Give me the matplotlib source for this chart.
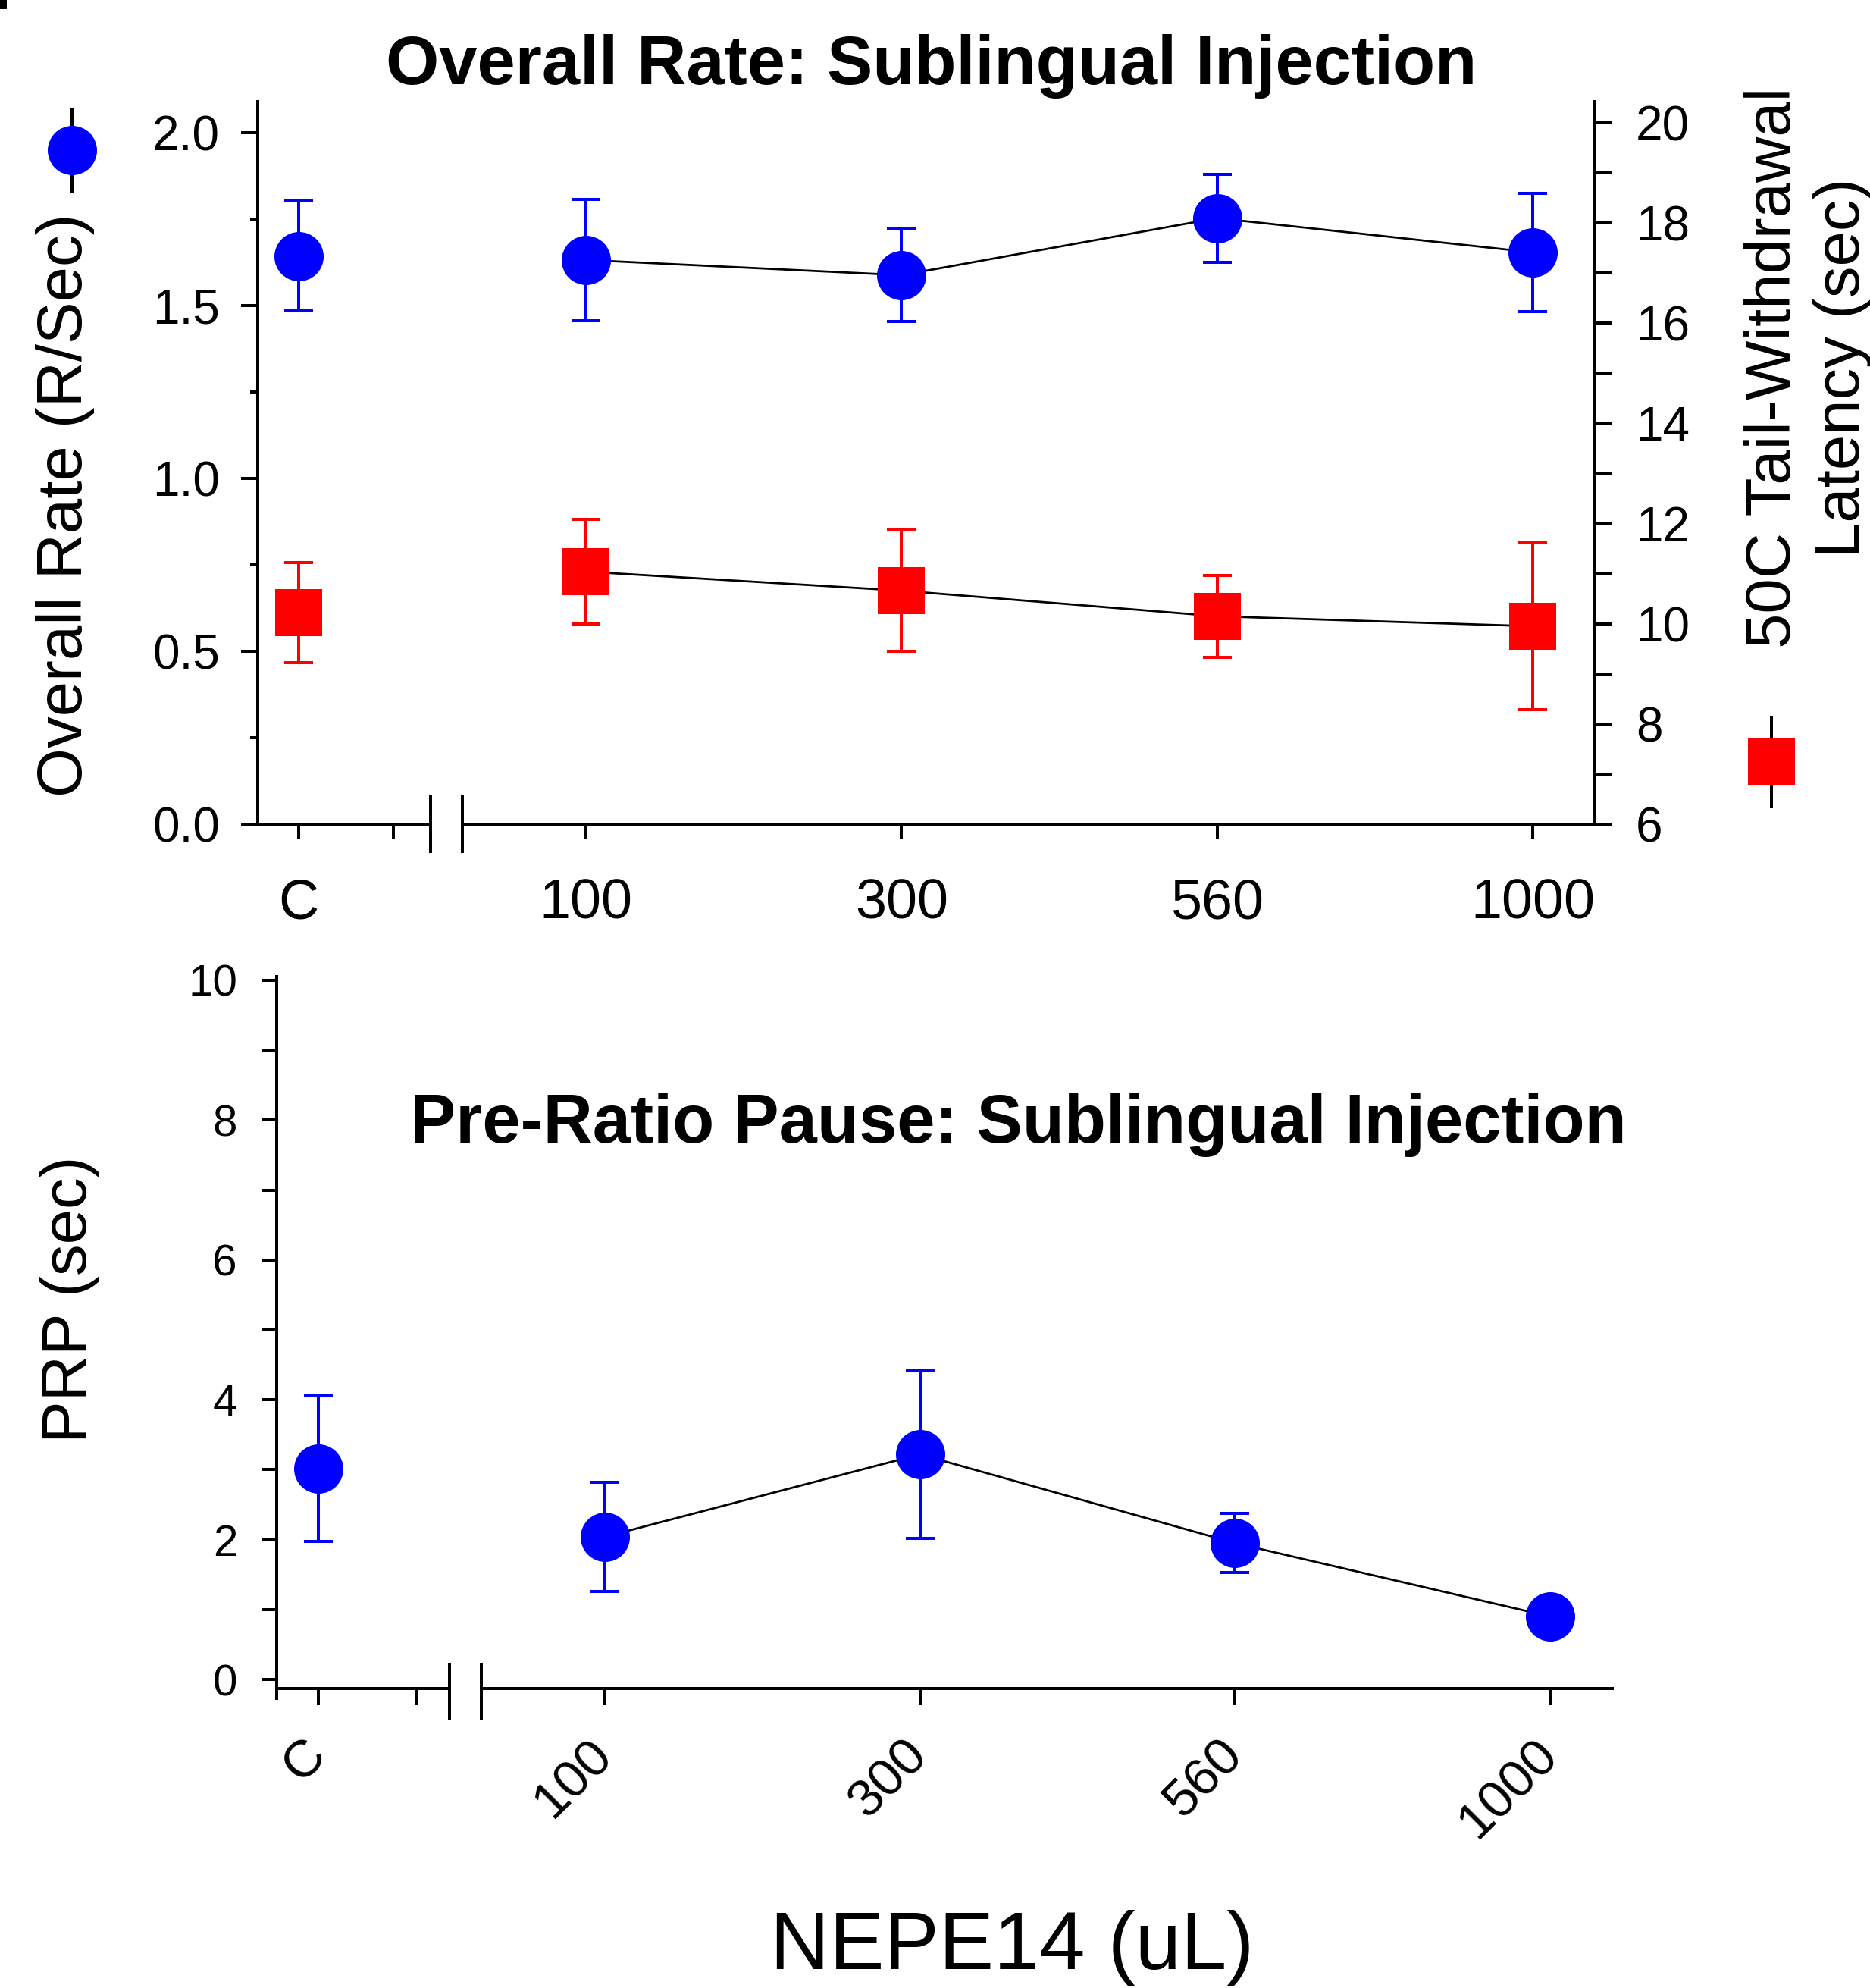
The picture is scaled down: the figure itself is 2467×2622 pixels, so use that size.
import matplotlib
matplotlib.use('Agg')
import matplotlib.pyplot as plt
from matplotlib.ticker import MultipleLocator, FormatStrFormatter, FixedLocator

plt.rcParams['font.family'] = ['Liberation Sans', 'DejaVu Sans']

# ---------------- data ----------------
categories = ['C', '100', '300', '560', '1000']
cat_pos = [0.09, 1, 2, 3, 4]
rate_mean = [1.643, 1.632, 1.588, 1.753, 1.654]
rate_sem = [0.159, 0.176, 0.135, 0.127, 0.171]
latency_mean = [10.22, 11.04, 10.66, 10.15, 9.95]
latency_sem = [1.00, 1.05, 1.21, 0.82, 1.67]
prp_mean = [3.02, 2.04, 3.22, 1.95, 0.90]
prp_sem = [1.05, 0.78, 1.20, 0.42, 0.10]

W, H = 2467, 2622
fig = plt.figure(figsize=(W / 100, H / 100), dpi=100)
PT = 0.72  # points per pixel


def px2fig(l, t, r, b):
    return [l / W, 1 - b / H, (r - l) / W, (b - t) / H]


LW = 4 * PT
MS_C = 65 * PT
MS_S = 62 * PT
ELW = 4 * PT
CAP = 19 * PT
BLUE = '#0000ff'
RED = '#ff0000'
BRK1, BRK2 = 0.507, 0.608

# ---------------- top panel ----------------
ax = fig.add_axes(px2fig(340, 134, 2104, 1087))
ax.set_xlim(-0.040, 4.197)
ax.set_ylim(0, 2.09)
ax2 = ax.twinx()
ax2.set_ylim(6, 20.42)

for a in (ax, ax2):
    a.spines['top'].set_visible(False)
    a.spines['bottom'].set_visible(False)
    a.set_facecolor('none')
ax.spines['right'].set_visible(False)
ax2.spines['left'].set_visible(False)
ax.spines['left'].set_linewidth(LW)
ax2.spines['right'].set_linewidth(LW)

# x axis with break
ax.plot([-0.08, BRK1], [0, 0], color='k', lw=LW, clip_on=False,
        solid_capstyle='butt', transform=ax.get_xaxis_transform())
ax.plot([BRK2, 4.197], [0, 0], color='k', lw=LW, clip_on=False,
        solid_capstyle='butt', transform=ax.get_xaxis_transform())
for b in (BRK1, BRK2):
    ax.plot([b, b], [-0.040, 0.040], color='k', lw=LW, clip_on=False,
            solid_capstyle='butt', transform=ax.get_xaxis_transform())

ax.set_xticks(cat_pos)
ax.set_xticklabels(categories, fontsize=53)
ax.xaxis.set_minor_locator(FixedLocator([0.39]))
ax.tick_params(axis='x', which='both', direction='out', length=20 * PT,
               width=LW, pad=36)
ax.yaxis.set_major_locator(MultipleLocator(0.5))
ax.yaxis.set_minor_locator(MultipleLocator(0.25))
ax.yaxis.set_major_formatter(FormatStrFormatter('%.1f'))
ax.tick_params(axis='y', which='major', direction='out', length=22 * PT,
               width=LW, pad=20, labelsize=46)
ax.tick_params(axis='y', which='minor', direction='out', length=10 * PT,
               width=LW)
ax2.yaxis.set_major_locator(MultipleLocator(2))
ax2.yaxis.set_minor_locator(MultipleLocator(1))
ax2.tick_params(axis='y', which='both', direction='out', length=22 * PT,
                width=LW, pad=23, labelsize=46)

# rate (left axis)
ax.errorbar(cat_pos, rate_mean, yerr=rate_sem, fmt='none', ecolor=BLUE,
            elinewidth=ELW, capsize=CAP, capthick=ELW, zorder=3)
ax.plot(cat_pos[1:], rate_mean[1:], color='k', lw=2.0, zorder=2)
ax.plot(cat_pos, rate_mean, 'o', color=BLUE, ms=MS_C, mew=0, zorder=4)

# latency (right axis)
ax2.errorbar(cat_pos, latency_mean, yerr=latency_sem, fmt='none', ecolor=RED,
             elinewidth=ELW, capsize=CAP, capthick=ELW, zorder=3)
ax2.plot(cat_pos[1:], latency_mean[1:], color='k', lw=2.0, zorder=2)
ax2.plot(cat_pos, latency_mean, 's', color=RED, ms=MS_S, mew=0, zorder=4)

# ---------------- bottom panel ----------------
bx = fig.add_axes(px2fig(365, 1288, 2129, 2240))
bx.set_xlim(-0.0416, 4.202)
bx.set_ylim(-0.271, 10.054)
bx.set_facecolor('none')
for s in ('top', 'right'):
    bx.spines[s].set_visible(False)
bx.spines['left'].set_linewidth(LW)
XAX = -0.13
bx.spines['bottom'].set_position(('data', XAX))
bx.spines['bottom'].set_visible(False)
bx.plot([-0.0416, BRK1], [XAX, XAX], color='k', lw=LW, clip_on=False,
        solid_capstyle='butt')
bx.plot([BRK2, 4.202], [XAX, XAX], color='k', lw=LW, clip_on=False,
        solid_capstyle='butt')
for b in (BRK1, BRK2):
    bx.plot([b, b], [0.24, -0.59], color='k', lw=LW, clip_on=False,
            solid_capstyle='butt')

bx.set_xticks(cat_pos)
bx.set_xticklabels(categories, fontsize=50, rotation=45, ha='right',
                   va='center', rotation_mode='anchor')
bx.xaxis.set_minor_locator(FixedLocator([0.40]))
bx.tick_params(axis='x', which='both', direction='out', length=22 * PT,
               width=LW, pad=40)
bx.yaxis.set_major_locator(MultipleLocator(2))
bx.yaxis.set_minor_locator(MultipleLocator(1))
bx.tick_params(axis='y', which='both', direction='out', length=20 * PT,
               width=LW, pad=23, labelsize=42)

bx.errorbar(cat_pos, prp_mean, yerr=prp_sem, fmt='none', ecolor=BLUE,
            elinewidth=ELW, capsize=CAP, capthick=ELW, zorder=3)
bx.plot(cat_pos[1:], prp_mean[1:], color='k', lw=2.0, zorder=2)
bx.plot(cat_pos, prp_mean, 'o', color=BLUE, ms=MS_C, mew=0, zorder=4)

# ---------------- overlay texts & keys ----------------
ov = fig.add_axes([0, 0, 1, 1])
ov.set_xlim(0, W)
ov.set_ylim(H, 0)
ov.axis('off')
ov.set_facecolor('none')

ov.text(1229, 87, 'Overall Rate: Sublingual Injection', fontsize=65,
        fontweight='bold', ha='center', va='center')
ov.text(1343, 1484, 'Pre-Ratio Pause: Sublingual Injection', fontsize=65,
        fontweight='bold', ha='center', va='center')
ov.text(86, 666, 'Overall Rate (R/Sec)', fontsize=60, rotation=90,
        ha='center', va='center')
ov.text(2340, 485, '50C Tail-Withdrawal', fontsize=60, rotation=90,
        ha='center', va='center')
ov.text(2431, 485, 'Latency (sec)', fontsize=60, rotation=90,
        ha='center', va='center')
ov.text(92, 1714, 'PRP (sec)', fontsize=60, rotation=90,
        ha='center', va='center')
ov.text(1335, 2569, 'NEPE14 (uL)', fontsize=78, ha='center', va='center')

# legend keys
ov.plot([95, 95], [142, 255], color='k', lw=LW, solid_capstyle='butt')
ov.plot([95], [198], 'o', color=BLUE, ms=MS_C, mew=0)
ov.plot([2337, 2337], [945, 1066], color='k', lw=LW, solid_capstyle='butt')
ov.plot([2337], [1004], 's', color=RED, ms=MS_S, mew=0)

# small corner mark
ov.plot([4, 4], [0, 12], color='k', lw=10 * PT, solid_capstyle='butt')

fig.savefig('out.png', dpi=100)
